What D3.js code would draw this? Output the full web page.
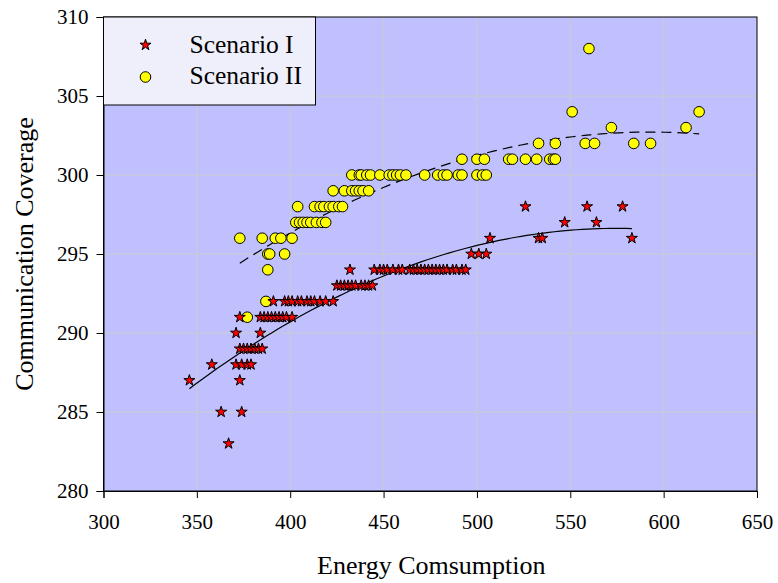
<!DOCTYPE html>
<html>
<head>
<meta charset="utf-8">
<title>Communication Coverage vs Energy Consumption</title>
<script src="https://d3js.org/d3.v7.min.js"></script>
<style>
  body { margin: 0; background: #fff; }
  text { font-family: "Liberation Serif", "Times New Roman", serif; fill: #000; }
</style>
</head>
<body>
<div id="chart"></div>
<script>
// Scenario I (stars): energy / coverage pairs
const s1Energy = [346, 358, 363, 367, 371, 371, 373, 373, 374, 374, 377, 379,
  373, 375, 377, 379, 381, 383, 385, 384,
  384, 386, 388, 390, 392, 394, 396, 398, 401,
  391, 397, 399, 401, 404, 406, 409, 411, 413, 416, 419, 423,
  425, 427, 429, 431, 433, 435, 438, 440, 442, 444,
  432, 445, 448, 450, 452, 455, 458, 460, 464, 466, 468, 470, 472, 474, 476, 478, 480, 482, 484, 487, 489, 492, 494,
  497, 501, 505, 507, 526, 533, 535, 547, 559, 564, 578, 583];
const s1Coverage = [287, 288, 285, 283, 288, 290, 287, 291, 285, 288, 288, 288,
  289, 289, 289, 289, 289, 289, 289, 290,
  291, 291, 291, 291, 291, 291, 291, 291, 291,
  292, 292, 292, 292, 292, 292, 292, 292, 292, 292, 292, 292,
  293, 293, 293, 293, 293, 293, 293, 293, 293, 293,
  294, 294, 294, 294, 294, 294, 294, 294, 294, 294, 294, 294, 294, 294, 294, 294, 294, 294, 294, 294, 294, 294, 294,
  295, 295, 295, 296, 298, 296, 296, 297, 298, 297, 298, 296];

// Scenario II (circles)
const s2Energy = [377, 387, 388, 388, 389, 397,
  373, 385, 392, 395, 401,
  403, 405, 407, 409, 411, 414, 417, 419,
  404, 413, 416, 418, 421, 423, 426, 428,
  423, 429, 433, 435, 437, 439, 442,
  433, 437, 438, 441, 443, 448, 453, 455, 457, 459, 462, 472, 479, 482, 484, 490, 492, 500, 503, 505,
  492, 500, 504, 517, 519, 526, 532, 539, 541, 542,
  533, 542, 558, 563, 584, 593,
  572, 612, 551, 619, 560];
const s2Coverage = [291, 292, 294, 295, 295, 295,
  296, 296, 296, 296, 296,
  297, 297, 297, 297, 297, 297, 297, 297,
  298, 298, 298, 298, 298, 298, 298, 298,
  299, 299, 299, 299, 299, 299, 299,
  300, 300, 300, 300, 300, 300, 300, 300, 300, 300, 300, 300, 300, 300, 300, 300, 300, 300, 300, 300,
  301, 301, 301, 301, 301, 301, 301, 301, 301, 301,
  302, 302, 302, 302, 302, 302,
  303, 303, 304, 304, 308];

const xTicks = [300, 350, 400, 450, 500, 550, 600, 650];
const yTicks = [280, 285, 290, 295, 300, 305, 310];
const seriesNames = ["Scenario I", "Scenario II"];

const margin = { top: 17, right: 21, bottom: 92, left: 103.5 };
const width = 778 - margin.left - margin.right;
const height = 583 - margin.top - margin.bottom;

const svg = d3.select("#chart").append("svg")
  .attr("width", 778).attr("height", 583);
const g = svg.append("g").attr("transform", `translate(${margin.left},${margin.top})`);

const x = d3.scaleLinear().domain([300, 650]).range([0, width]);
const y = d3.scaleLinear().domain([280, 310]).range([height, 0]);

// plot background
g.append("rect").attr("width", width).attr("height", height).attr("fill", "#c0c0ff");

// grid
g.append("g").selectAll("line").data(xTicks.slice(1, -1)).join("line")
  .attr("x1", d => x(d)).attr("x2", d => x(d)).attr("y1", 0).attr("y2", height)
  .attr("stroke", "#cbcbcb").attr("stroke-width", 1);
g.append("g").selectAll("line").data(yTicks.slice(1, -1)).join("line")
  .attr("y1", d => y(d)).attr("y2", d => y(d)).attr("x1", 0).attr("x2", width)
  .attr("stroke", "#cbcbcb").attr("stroke-width", 1);

// border
g.append("rect").attr("width", width).attr("height", height)
  .attr("fill", "none").attr("stroke", "#000").attr("stroke-width", 1);

// axes
const xAxis = g.append("g").attr("transform", `translate(0,${height})`)
  .call(d3.axisBottom(x).tickValues(xTicks).tickSize(7).tickPadding(16));
const yAxis = g.append("g")
  .call(d3.axisLeft(y).tickValues(yTicks).tickSize(7).tickPadding(8));
[xAxis, yAxis].forEach(a => {
  a.selectAll("text").style("font-size", "21px").style("font-family", "'Liberation Serif', serif");
  a.selectAll("line, path").attr("stroke", "#000");
});

// quadratic least squares trend
function quadFit(xs, ys) {
  const mx = d3.mean(xs);
  let S = [[0,0,0],[0,0,0],[0,0,0]], T = [0,0,0];
  xs.forEach((xv, i) => {
    const u = xv - mx, p = [1, u, u*u];
    for (let r = 0; r < 3; r++) {
      T[r] += p[r] * ys[i];
      for (let c = 0; c < 3; c++) S[r][c] += p[r] * p[c];
    }
  });
  // gaussian elimination
  for (let k = 0; k < 3; k++) {
    for (let r = k + 1; r < 3; r++) {
      const f = S[r][k] / S[k][k];
      for (let c = k; c < 3; c++) S[r][c] -= f * S[k][c];
      T[r] -= f * T[k];
    }
  }
  const b = [0,0,0];
  for (let r = 2; r >= 0; r--) {
    let s = T[r];
    for (let c = r + 1; c < 3; c++) s -= S[r][c] * b[c];
    b[r] = s / S[r][r];
  }
  return xv => b[0] + b[1]*(xv - mx) + b[2]*(xv - mx)*(xv - mx);
}

function trend(xs, ys, dash) {
  const f = quadFit(xs, ys);
  const [lo, hi] = d3.extent(xs);
  const pts = d3.range(lo, hi + 0.001, (hi - lo) / 80).map(v => [v, f(v)]);
  g.append("path").datum(pts)
    .attr("fill", "none").attr("stroke", "#000").attr("stroke-width", 1.2)
    .attr("stroke-dasharray", dash)
    .attr("d", d3.line().x(d => x(d[0])).y(d => y(d[1])));
}
trend(s2Energy, s2Coverage, "10,6");
trend(s1Energy, s1Coverage, null);

const star = d3.symbol().type(d3.symbolStar).size(38);

// scenario II circles
g.append("g").selectAll("circle").data(d3.zip(s2Energy, s2Coverage)).join("circle")
  .attr("cx", d => x(d[0])).attr("cy", d => y(d[1])).attr("r", 5.3)
  .attr("fill", "#ffff00").attr("stroke", "#000").attr("stroke-width", 1);

// scenario I stars
g.append("g").selectAll("path").data(d3.zip(s1Energy, s1Coverage)).join("path")
  .attr("transform", d => `translate(${x(d[0])},${y(d[1])})`)
  .attr("d", star).attr("fill", "#ff0000").attr("stroke", "#000").attr("stroke-width", 1);

// legend
const lg = g.append("g");
lg.append("rect").attr("x", 0).attr("y", 0).attr("width", 212).attr("height", 88)
  .attr("fill", "#efeffb").attr("stroke", "#000").attr("stroke-width", 1);
lg.append("path").attr("transform", "translate(42,28)").attr("d", star)
  .attr("fill", "#ff0000").attr("stroke", "#000");
lg.append("circle").attr("cx", 42).attr("cy", 60).attr("r", 5.3)
  .attr("fill", "#ffff00").attr("stroke", "#000");
lg.selectAll("text").data(seriesNames).join("text")
  .attr("x", 86).attr("y", (d, i) => 36 + i * 31)
  .style("font-size", "25.5px").text(d => d);

// axis titles
svg.append("text").attr("x", margin.left + width / 2 + 1).attr("y", 574)
  .attr("text-anchor", "middle").style("font-size", "26px").text("Energy Comsumption");
svg.append("text").attr("transform", `translate(33,${margin.top + height / 2}) rotate(-90)`)
  .attr("text-anchor", "middle").style("font-size", "26px").text("Communication Coverage");
</script>
</body>
</html>
